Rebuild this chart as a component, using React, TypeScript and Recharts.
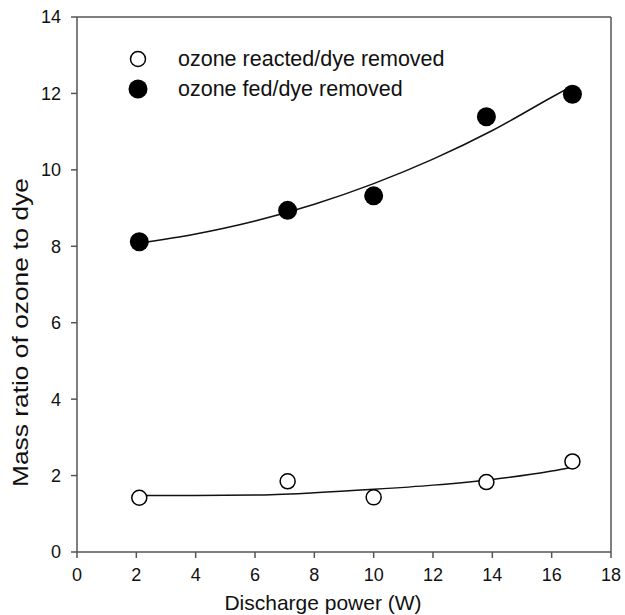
import React from 'react'
import {
  ComposedChart,
  Line,
  Scatter,
  XAxis,
  YAxis,
  Legend,
  ReferenceLine,
} from 'recharts'

// Measured points
const power = [2.1, 7.1, 10, 13.8, 16.7]
const reacted = [1.42, 1.85, 1.43, 1.83, 2.37]
const fed = [8.12, 8.94, 9.32, 11.39, 11.98]

// Fitted curves, sampled along the power axis
const fitPower = [2.1, 4, 6, 8, 10, 12, 14, 16, 16.7]
const reactedFit = [1.48, 1.48, 1.49, 1.55, 1.64, 1.75, 1.9, 2.12, 2.22]
const fedFit = [8.08, 8.32, 8.66, 9.1, 9.64, 10.28, 11.03, 11.9, 12.2]

const xTicks = [0, 2, 4, 6, 8, 10, 12, 14, 16, 18]
const yTicks = [0, 2, 4, 6, 8, 10, 12, 14]

const FONT = '"Liberation Sans", Arial, sans-serif'
const AXIS = '#555'

const reactedPts = power.map((x, i) => ({ x, y: reacted[i] }))
const fedPts = power.map((x, i) => ({ x, y: fed[i] }))
const reactedCurve = fitPower.map((x, i) => ({ x, y: reactedFit[i] }))
const fedCurve = fitPower.map((x, i) => ({ x, y: fedFit[i] }))

const OpenDot = (props: any) => (
  <circle cx={props.cx} cy={props.cy} r={7.5} fill="#fff" stroke="#000" strokeWidth={1.5} />
)
const FilledDot = (props: any) => (
  <circle cx={props.cx} cy={props.cy} r={9.5} fill="#000" />
)

const LEGEND_ITEMS = [
  { name: 'ozone reacted/dye removed', filled: false },
  { name: 'ozone fed/dye removed', filled: true },
]

function renderLegend() {
  return (
    <div style={{ fontFamily: FONT, fontSize: 21.5, color: '#111' }}>
      {LEGEND_ITEMS.map(item => (
        <div key={item.name} style={{ display: 'flex', alignItems: 'center', height: 30 }}>
          <svg width={24} height={24} style={{ marginRight: 28 }}>
            {item.filled ? (
              <circle cx={12} cy={12} r={9.5} fill="#000" />
            ) : (
              <circle cx={12} cy={12} r={7.5} fill="#fff" stroke="#000" strokeWidth={1.5} />
            )}
          </svg>
          <span>{item.name}</span>
        </div>
      ))}
    </div>
  )
}

const YTitle = (props: any) => {
  const { viewBox } = props
  const cx = viewBox.x + 20
  const cy = viewBox.y + viewBox.height / 2 + 48
  return (
    <text
      x={cx}
      y={cy}
      transform={`rotate(-90, ${cx}, ${cy})`}
      textAnchor="middle"
      dominantBaseline="central"
      fontFamily={FONT}
      fontSize={22}
      fill="#111"
      textLength={309}
      lengthAdjust="spacingAndGlyphs"
    >
      Mass ratio of ozone to dye
    </text>
  )
}

const XTitle = (props: any) => {
  const { viewBox } = props
  return (
    <text
      x={viewBox.x + viewBox.width / 2 - 21}
      y={viewBox.y + 58}
      textAnchor="middle"
      fontFamily={FONT}
      fontSize={21}
      fill="#111"
    >
      Discharge power (W)
    </text>
  )
}

export default function App() {
  return (
    <div style={{ position: 'absolute', left: 0, top: 0, background: '#fff' }}>
      <ComposedChart
        width={625}
        height={615}
        margin={{ top: 17, right: 14, left: 0, bottom: 0 }}
      >
        <XAxis
          type="number"
          dataKey="x"
          domain={[0, 18]}
          ticks={xTicks}
          height={63}
          stroke={AXIS}
          strokeWidth={1.5}
          tickSize={6}
          tickMargin={10}
          tick={{ fontSize: 18, fontFamily: FONT, fill: '#111' }}
          label={<XTitle />}
          allowDataOverflow
        />
        <YAxis
          type="number"
          domain={[0, 14]}
          ticks={yTicks}
          width={77}
          stroke={AXIS}
          strokeWidth={1.5}
          tickSize={6}
          tickMargin={10}
          tick={{ fontSize: 18, fontFamily: FONT, fill: '#111' }}
          label={<YTitle />}
        />
        <ReferenceLine x={18} stroke={AXIS} strokeWidth={1.5} />
        <ReferenceLine y={14} stroke={AXIS} strokeWidth={1.5} />
        {/* centred/middle keeps the legend from reserving plot space */}
        <Legend
          content={renderLegend}
          layout="vertical"
          verticalAlign="middle"
          align="center"
          wrapperStyle={{ left: 126, top: 44, width: 380 }}
        />
        <Line
          data={reactedCurve}
          dataKey="y"
          type="monotone"
          stroke="#111"
          strokeWidth={1.5}
          dot={false}
          activeDot={false}
          legendType="none"
          isAnimationActive={false}
        />
        <Line
          data={fedCurve}
          dataKey="y"
          type="monotone"
          stroke="#111"
          strokeWidth={1.5}
          dot={false}
          activeDot={false}
          legendType="none"
          isAnimationActive={false}
        />
        <Scatter
          name="ozone reacted/dye removed"
          data={reactedPts}
          dataKey="y"
          shape={<OpenDot />}
          isAnimationActive={false}
        />
        <Scatter
          name="ozone fed/dye removed"
          data={fedPts}
          dataKey="y"
          shape={<FilledDot />}
          isAnimationActive={false}
        />
      </ComposedChart>
    </div>
  )
}
